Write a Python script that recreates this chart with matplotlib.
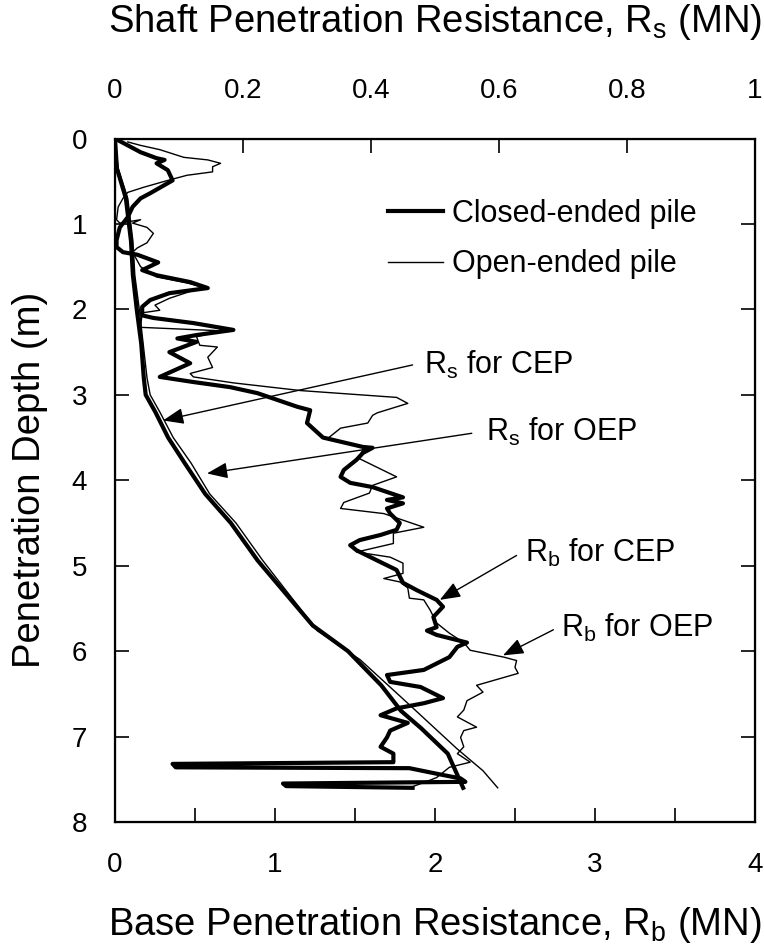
import matplotlib
matplotlib.use("Agg")
import matplotlib.pyplot as plt
import matplotlib.ticker as ticker

plt.rcParams["font.family"] = ["Liberation Sans", "DejaVu Sans"]
plt.rcParams["mathtext.fontset"] = "custom"
plt.rcParams["mathtext.rm"] = "Liberation Sans"
plt.rcParams["mathtext.default"] = "regular"

# base resistance, closed-ended pile (Rb in MN, depth in m)
cep_rb_depth = [0.01, 0.16, 0.23, 0.25, 0.29, 0.37, 0.49, 0.64, 0.70, 0.80, 0.92, 1.04, 1.19, 1.27,
                1.33, 1.36, 1.45, 1.54, 1.60, 1.68, 1.75, 1.81, 1.89, 1.97, 2.07, 2.10, 2.16, 2.24,
                2.30, 2.34, 2.38, 2.50, 2.63, 2.79, 2.85, 2.91, 2.98, 3.14, 3.18, 3.33, 3.50, 3.61,
                3.62, 3.68, 3.76, 3.88, 3.96, 4.03, 4.08, 4.15, 4.20, 4.23, 4.27, 4.33, 4.39, 4.50,
                4.58, 4.64, 4.70, 4.76, 4.82, 4.94, 5.05, 5.20, 5.29, 5.40, 5.48, 5.60, 5.72, 5.76,
                5.81, 5.90, 5.95, 6.07, 6.22, 6.28, 6.36, 6.42, 6.55, 6.61, 6.67, 6.75, 6.84, 6.93,
                7.01, 7.12, 7.20, 7.30, 7.32, 7.36, 7.37, 7.45, 7.49, 7.53, 7.55, 7.58, 7.60]
cep_rb = [0.01, 0.16, 0.26, 0.31, 0.26, 0.33, 0.36, 0.22, 0.16, 0.11, 0.08, 0.03, 0.01, 0.01,
          0.05, 0.14, 0.27, 0.17, 0.26, 0.47, 0.58, 0.34, 0.22, 0.17, 0.17, 0.24, 0.49, 0.74,
          0.51, 0.39, 0.51, 0.34, 0.47, 0.28, 0.49, 0.72, 0.89, 1.14, 1.22, 1.20, 1.30, 1.55,
          1.61, 1.55, 1.51, 1.43, 1.41, 1.47, 1.61, 1.72, 1.80, 1.70, 1.80, 1.70, 1.72, 1.78,
          1.76, 1.66, 1.53, 1.47, 1.51, 1.64, 1.76, 1.80, 1.89, 2.01, 2.05, 1.99, 2.01, 1.95,
          2.01, 2.20, 2.14, 2.09, 1.93, 1.70, 1.72, 1.91, 2.05, 1.93, 1.76, 1.66, 1.83, 1.72,
          1.70, 1.66, 1.74, 1.74, 0.36, 0.38, 1.84, 2.05, 2.16, 2.19, 1.05, 1.07, 1.86]

# base resistance, open-ended pile
oep_rb_depth = [0.04, 0.08, 0.13, 0.22, 0.25, 0.29, 0.33, 0.39, 0.43, 0.49, 0.57, 0.63, 0.70, 0.80,
                0.95, 0.99, 0.95, 0.99, 1.04, 1.11, 1.22, 1.28, 1.33, 1.50, 1.62, 1.69, 1.74, 1.87,
                1.95, 2.01, 2.04, 2.21, 2.25, 2.32, 2.42, 2.44, 2.56, 2.68, 2.75, 2.79, 2.86, 2.95,
                3.03, 3.10, 3.21, 3.24, 3.33, 3.39, 3.51, 3.61, 3.74, 3.96, 4.06, 4.15, 4.26, 4.33,
                4.39, 4.55, 4.62, 4.74, 4.84, 4.90, 4.97, 5.09, 5.15, 5.19, 5.26, 5.38, 5.40, 5.52,
                5.67, 5.79, 5.90, 5.99, 6.07, 6.11, 6.19, 6.26, 6.40, 6.48, 6.58, 6.69, 6.77, 6.89,
                6.93, 7.01, 7.12, 7.20, 7.30, 7.36, 7.48, 7.51, 7.60]
oep_rb = [0.08, 0.16, 0.28, 0.43, 0.58, 0.66, 0.61, 0.61, 0.45, 0.33, 0.18, 0.08, 0.05, 0.02,
          0.01, 0.03, 0.16, 0.11, 0.20, 0.24, 0.20, 0.14, 0.11, 0.16, 0.26, 0.45, 0.55, 0.34,
          0.25, 0.28, 0.17, 0.16, 0.66, 0.51, 0.53, 0.64, 0.58, 0.61, 0.47, 0.49, 0.74, 1.16,
          1.76, 1.83, 1.64, 1.61, 1.58, 1.41, 1.33, 1.56, 1.52, 1.76, 1.61, 1.59, 1.43, 1.41,
          1.68, 1.93, 1.74, 1.74, 1.51, 1.72, 1.80, 1.80, 1.68, 1.78, 1.83, 1.84, 1.93, 1.97,
          2.01, 2.09, 2.18, 2.22, 2.43, 2.51, 2.50, 2.52, 2.26, 2.30, 2.20, 2.18, 2.14, 2.26,
          2.18, 2.16, 2.18, 2.14, 2.22, 2.09, 2.01, 1.97, 1.84]

# shaft resistance (Rs in MN, top axis)
cep_rs_depth = [0, 0.35, 0.7, 1.2, 1.6, 2.0, 2.4, 2.8, 3.0, 3.2, 3.5, 3.8, 4.16, 4.5, 4.94,
                5.7, 6.0, 6.4, 6.7, 6.9, 7.2, 7.6]
cep_rs = [0, 0.003, 0.017, 0.025, 0.028, 0.034, 0.041, 0.045, 0.048, 0.063, 0.083, 0.109, 0.141,
          0.181, 0.223, 0.309, 0.364, 0.416, 0.447, 0.478, 0.520, 0.544]
oep_rs_depth = [0, 0.35, 0.7, 1.2, 1.6, 2.0, 2.4, 2.8, 3.0, 3.2, 3.5, 3.8, 4.16, 4.5, 4.94,
                5.76, 6.1, 6.6, 7.14, 7.4, 7.6]
oep_rs = [0, 0.005, 0.020, 0.028, 0.031, 0.038, 0.044, 0.050, 0.055, 0.070, 0.091, 0.119, 0.148,
          0.189, 0.231, 0.316, 0.383, 0.456, 0.534, 0.575, 0.598]

# annotations: label, arrow tip (Rb, depth), arrow tail, text position
notes = [
    (r"R$_\mathregular{s}$ for CEP", (0.30, 3.30), (1.86, 2.65), (1.93, 2.65)),
    (r"R$_\mathregular{s}$ for OEP", (0.575, 3.92), (2.23, 3.45), (2.32, 3.44)),
    (r"R$_\mathregular{b}$ for CEP", (2.03, 5.40), (2.51, 4.88), (2.56, 4.85)),
    (r"R$_\mathregular{b}$ for OEP", (2.425, 6.05), (2.74, 5.75), (2.79, 5.73)),
]

fig = plt.figure(figsize=(7.64, 9.47), dpi=100)
ax = fig.add_axes([0.1505, 0.132, 0.8377, 0.7217])

thick = dict(color="black", linewidth=3.0, solid_joinstyle="round")
thin = dict(color="black", linewidth=1.0, solid_joinstyle="round")

ax.plot(cep_rb, cep_rb_depth, label="Closed-ended pile", **thick)
ax.plot(oep_rb, oep_rb_depth, label="Open-ended pile", **thin)

ax.set_xlim(0, 4)
ax.set_ylim(8, 0)
ax.xaxis.set_major_locator(ticker.MultipleLocator(1))
ax.xaxis.set_minor_locator(ticker.MultipleLocator(0.5))
ax.yaxis.set_major_locator(ticker.MultipleLocator(1))
ax.tick_params(axis="both", which="both", direction="in", length=10, width=1.2,
               labelsize=20, top=False, right=True)
ax.tick_params(axis="x", pad=21.5)
ax.tick_params(axis="y", pad=20)
for sp in ax.spines.values():
    sp.set_linewidth(1.6)

ax2 = ax.twiny()
ax2.plot(cep_rs, cep_rs_depth, **thick)
ax2.plot(oep_rs, oep_rs_depth, **thin)
ax2.set_xlim(0, 1)
ax2.set_ylim(8, 0)
ax2.xaxis.set_major_locator(ticker.MultipleLocator(0.2))
ax2.xaxis.set_major_formatter(ticker.FuncFormatter(lambda v, _: f"{v:g}"))
ax2.tick_params(axis="x", direction="in", length=10, width=1.2, labelsize=20, pad=25)

ax.set_xlabel(r"Base Penetration Resistance, R$_\mathregular{b}$ (MN)", fontsize=27.5,
              va="center")
ax.xaxis.set_label_coords(0.5, -0.1507)
ax.set_ylabel("Penetration Depth (m)", fontsize=27.5, va="center")
ax.yaxis.set_label_coords(-0.133, 0.5)
ax2.set_xlabel(r"Shaft Penetration Resistance, R$_\mathregular{s}$ (MN)", fontsize=27.5,
               va="center")
ax2.xaxis.set_label_coords(0.5, 1.17)

for label, tip, tail, pos in notes:
    ax.annotate("", xy=tip, xytext=tail,
                arrowprops=dict(arrowstyle="-|>,head_length=0.9,head_width=0.35",
                                mutation_scale=14, color="black", lw=1.0,
                                shrinkA=0, shrinkB=0))
    ax.text(pos[0], pos[1], label, fontsize=22, ha="left", va="center")

ax.legend(loc="upper left", bbox_to_anchor=(0.427, 0.912), frameon=False, fontsize=22,
          handlelength=1.8, handletextpad=0.3, labelspacing=0.68, borderpad=0,
          borderaxespad=0)

fig.savefig("out.png", dpi=100)
plt.close(fig)
